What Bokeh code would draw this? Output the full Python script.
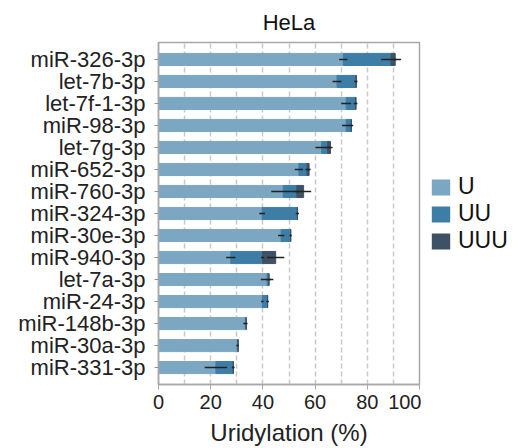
from bokeh.plotting import figure
from bokeh.layouts import row
from bokeh.models import Range1d, FactorRange, FixedTicker, Legend, LegendItem, ColumnDataSource
from bokeh.embed import file_html
from bokeh.resources import INLINE

cats = ["miR-326-3p", "let-7b-3p", "let-7f-1-3p", "miR-98-3p", "let-7g-3p",
        "miR-652-3p", "miR-760-3p", "miR-324-3p", "miR-30e-3p", "miR-940-3p",
        "let-7a-3p", "miR-24-3p", "miR-148b-3p", "miR-30a-3p", "miR-331-3p"]
u   = [70.8, 68.4, 71.9, 71.9, 62.5, 53.8, 47.8, 39.7, 47.0, 27.7, 41.6, 39.8, 33.3, 30.2, 22.0]
uu  = [18.3, 7.2, 3.6, 2.0, 2.3, 3.1, 5.2, 13.5, 3.6, 12.2, 0.7, 2.0, 0.3, 0.3, 6.6]
uuu = [1.6, 0.2, 0.2, 0.0, 1.1, 0.8, 2.6, 0.1, 0.1, 5.0, 0.0, 0.0, 0.0, 0.0, 0.1]
u_err   = [1.6, 1.7, 1.9, 1.6, 2.4, 1.6, 4.6, 1.1, 1.2, 1.8, 2.4, 0.5, 0.8, 0.4, 4.3]
uu_err  = [3.8, 0.6, 0.7, 0.7, 0.5, 0.6, 1.0, 0.6, 0.4, 0.6, 0.8, 0.5, 0.2, 0.2, 0.5]
uuu_err = [0.5, 0.3, 0.2, 0.0, 0.8, 0.6, 2.9, 0.2, 0.2, 3.3, 0.0, 0.0, 0.0, 0.0, 0.3]
x_ticks = [0, 20, 40, 60, 80, 100]
series = ["U", "UU", "UUU"]
colors = ["#7CA7C2", "#3E7EA6", "#3F5164"]

FONT = "Liberation Sans"

e1 = u
e2 = [a + b for a, b in zip(u, uu)]
e3 = [a + b + c for a, b, c in zip(u, uu, uuu)]

src = ColumnDataSource(dict(cat=cats, z=[0]*len(cats), e1=e1, e2=e2, e3=e3,
                            l1=[a - b for a, b in zip(e1, u_err)], r1=[a + b for a, b in zip(e1, u_err)],
                            l2=[a - b for a, b in zip(e2, uu_err)], r2=[a + b for a, b in zip(e2, uu_err)],
                            l3=[a - b for a, b in zip(e3, uuu_err)], r3=[a + b for a, b in zip(e3, uuu_err)]))

p = figure(width=421, height=448, output_backend="svg", toolbar_location=None,
           x_range=Range1d(0, 100),
           y_range=FactorRange(factors=cats[::-1], range_padding=0.27, range_padding_units="absolute"),
           min_border_left=158, min_border_right=2, min_border_top=42, min_border_bottom=61,
           title="HeLa")

p.hbar(y="cat", left="z", right="e1", height=0.55, color=colors[0], source=src)
p.hbar(y="cat", left="e1", right="e2", height=0.55, color=colors[1], source=src)
p.hbar(y="cat", left="e2", right="e3", height=0.55, color=colors[2], source=src)

for l, r in (("l1", "r1"), ("l2", "r2"), ("l3", "r3")):
    p.segment(x0=l, x1=r, y0="cat", y1="cat", line_color="#222222", line_width=1.5, source=src)

p.title.text_font = FONT
p.title.text_font_size = "22px"
p.title.text_font_style = "normal"
p.title.align = "center"
p.title.text_color = "#111111"
p.title.standoff = 15

p.outline_line_color = "#a8a8a8"
p.outline_line_width = 1.5

p.xaxis.ticker = FixedTicker(ticks=x_ticks)
p.xaxis.axis_label = "Uridylation (%)"
p.xaxis.axis_label_text_font = FONT
p.xaxis.axis_label_text_font_size = "24px"
p.xaxis.axis_label_text_font_style = "normal"
p.xaxis.axis_label_text_color = "#222222"
p.xaxis.axis_label_standoff = 7
p.xaxis.major_label_text_font = FONT
p.xaxis.major_label_text_font_size = "20px"
p.xaxis.major_label_text_color = "#222222"
p.xaxis.major_label_standoff = 5
p.xaxis.minor_tick_line_color = None
p.xaxis.major_tick_in = 0
p.xaxis.major_tick_out = 5
p.xaxis.major_tick_line_color = "#a8a8a8"
p.xaxis.axis_line_color = "#a8a8a8"
p.xaxis.axis_line_width = 1.5

p.yaxis.major_label_text_font = FONT
p.yaxis.major_label_text_font_size = "22px"
p.yaxis.major_label_text_color = "#222222"
p.yaxis.major_label_standoff = 9
p.yaxis.major_tick_in = 0
p.yaxis.major_tick_out = 4
p.yaxis.major_tick_line_color = "#909090"
p.yaxis.axis_line_color = "#a8a8a8"
p.yaxis.axis_line_width = 1.5

p.ygrid.grid_line_color = None
p.xgrid.ticker = FixedTicker(ticks=[10, 20, 30, 40, 50, 60, 70, 80, 90])
p.xgrid.grid_line_color = "#c8c8c8"
p.xgrid.grid_line_width = 1.5
p.xgrid.grid_line_dash = "5 3"

# legend panel (separate narrow figure so the legend sits right of the plot frame)
pl = figure(width=93, height=448, output_backend="svg", toolbar_location=None,
            x_range=Range1d(0, 1), y_range=Range1d(0, 1),
            min_border=0, x_axis_location=None, y_axis_location=None)
pl.outline_line_color = None
pl.xgrid.visible = False
pl.ygrid.visible = False
offscreen = ColumnDataSource(dict(x=[-5.0], y=[-5.0]))
lrs = [pl.rect(x="x", y="y", width=0.1, height=0.1, fill_color=c, line_color=None, source=offscreen)
       for c in colors]

legend = Legend(items=[LegendItem(label=s, renderers=[r]) for s, r in zip(series, lrs)],
                location=(8, 130), orientation="vertical")
legend.label_text_font = FONT
legend.label_text_font_size = "23px"
legend.label_text_color = "#111111"
legend.glyph_width = 23
legend.glyph_height = 20
legend.label_height = 26
legend.spacing = 0
legend.label_standoff = 6
legend.padding = 0
legend.margin = 0
legend.border_line_color = None
legend.background_fill_alpha = 0
pl.add_layout(legend, "center")

layout = row(p, pl)
open("out.html", "w").write(file_html(layout, INLINE))
